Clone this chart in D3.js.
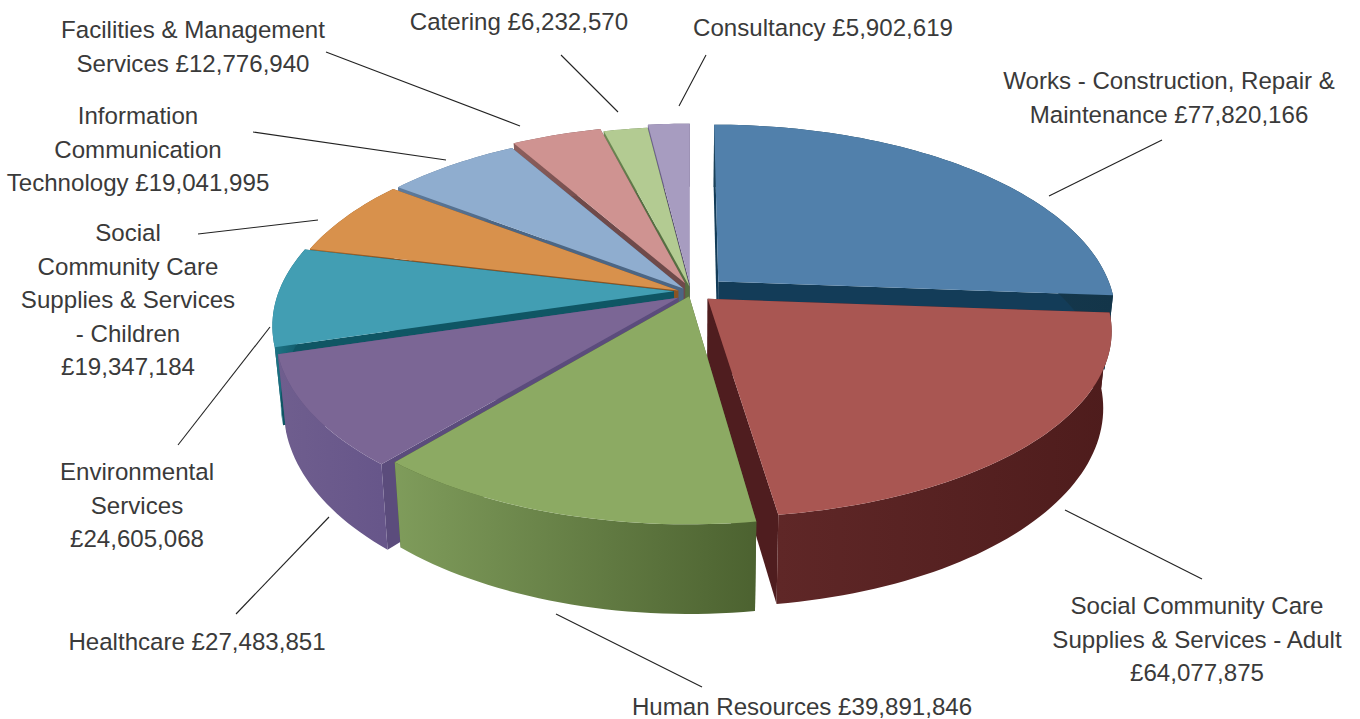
<!DOCTYPE html>
<html>
<head>
<meta charset="utf-8">
<script src="https://cdn.jsdelivr.net/npm/d3@7/dist/d3.min.js"></script>
<style>
html,body{margin:0;padding:0;background:#fff;overflow:hidden}
svg{display:block}
text{font-family:"Liberation Sans",Arial,sans-serif;font-size:24.1px;fill:#3a3a3a}
</style>
</head>
<body>
<svg id="chart" width="1360" height="719"></svg>
<script>
// Spend by category, clockwise from twelve o'clock
const categories = ["Works","Adult care","Human Resources","Healthcare","Environmental","Children care","ICT","Facilities","Catering","Consultancy"];
const values = [77820166,64077875,39891846,27483851,24605068,19347184,19041995,12776940,6232570,5902619];
// "$" marks where the formatted amount goes
const labelLines = [
  ["Works - Construction, Repair &","Maintenance $"],
  ["Social Community Care","Supplies & Services - Adult","$"],
  ["Human Resources $"],
  ["Healthcare $"],
  ["Environmental","Services","$"],
  ["Social","Community Care","Supplies & Services","- Children","$"],
  ["Information","Communication","Technology $"],
  ["Facilities & Management","Services $"],
  ["Catering $"],
  ["Consultancy $"]
];
// Label anchor: centre x, first baseline
const labelX = [1169,1197,802,197,137,128,138,193,519,823];
const labelY = [89,614,715,650,480,241,124,38,30,36];
// Leader lines: x1,y1,x2,y2
const leaders = [
  [1162,140,1049,196],[1202,579,1065,510],[702,687,556,614],[236,614,329,517],[178,445,270,327],
  [198,234,318,220],[253,132,446,160],[326,52,520,126],[561,55,618,112],[706,55,679,106]
];
// How far each wedge is pulled from the centre, an extra vertical nudge, and its depth flattening
const explode = [39,24,3,14,16,13,10,13,3,3];
const lift = [0,-3,1,0,-3,-1,-2,-5,-6,-9];
const flatten = [1,0.955,1,1,1,1,1,1,1,1];
const topColors  = ["#5180ab","#a95652","#8caa63","#7b6695","#429eb3","#d8914c","#8fadcf","#cf9391","#b3cb92","#a79cc0"];
const wallLight  = ["#1a4058","#5f2727","#7f9c5b","#6f5e8e","#1f7688","#a96a2c","#5e7b9c","#8d5f5d","#6f8a55","#6f6390"];
const wallDark   = ["#133549","#4e1c1c","#4c6230","#67568a","#0f5664","#8a5424","#4c6684","#6f4a4a","#566f42","#574c70"];
const cutColors  = ["#133c58","#4f1d1f","#4c6230","#5b4c7c","#0f5664","#8a5424","#4c6684","#6f4a4a","#566f42","#574c70"];
const lineHeight = 33.6;

const svg = d3.select("#chart");
const defs = svg.append("defs");

const cx = 690, cy = 294, rx = 395, ry = 188, depth = 74, persp = 0.173, taper = 0.02;
const toX = d3.scaleLinear().domain([-1,1]).range([-rx,rx]);
const toY = d3.scaleLinear().domain([-1,1]).range([-ry,ry]);

// Map a point on the pie plane to the screen, with foreshortening toward the back;
// the underside narrows slightly toward the centre
function project(angle, radius, wedge, z) {
  const mid = (wedge.startAngle + wedge.endAngle) / 2;
  const e = explode[wedge.index] / rx;
  const u = radius * Math.sin(angle) + e * Math.sin(mid);
  const v = -radius * Math.cos(angle) * flatten[wedge.index] - e * Math.cos(mid);
  const p = 1 / (1 - persp * v);
  const narrow = z > 0 ? 1 - taper : 1;
  return [cx + toX(u) * p * narrow, cy + lift[wedge.index] + (toY(v) + z) * p];
}

const pie = d3.pie().sort(null).value(d => d);
const wedges = pie(values);
const line = d3.line();

function rim(w, z) {
  const n = Math.max(8, Math.ceil((w.endAngle - w.startAngle) * 40));
  const a = d3.scaleLinear().domain([0,n]).range([w.startAngle,w.endAngle]);
  return d3.range(n + 1).map(i => project(a(i), 1, w, z));
}

// Back slices first, so nearer ones sit on top of their walls
const drawOrder = [9,8,7,6,5,4,0,3,1,2];
const layer = svg.append("g");

drawOrder.forEach(i => {
  const w = wedges[i];
  const g = layer.append("g").attr("class","slice slice-" + i);
  const topRim = rim(w, 0), lowRim = rim(w, depth);
  const apexT = project(0, 0, w, 0), apexB = project(0, 0, w, depth);

  const xs = topRim.map(d => d[0]);
  const grad = defs.append("linearGradient").attr("id","wall" + i)
    .attr("gradientUnits","userSpaceOnUse")
    .attr("x1",d3.min(xs)).attr("x2",d3.max(xs)).attr("y1",0).attr("y2",0);
  grad.append("stop").attr("offset",0).attr("stop-color",wallLight[i]);
  grad.append("stop").attr("offset",1).attr("stop-color",wallDark[i]);

  // radial cut faces
  [[apexT,topRim[0],lowRim[0],apexB],[apexT,topRim[topRim.length-1],lowRim[lowRim.length-1],apexB]]
    .forEach(q => g.append("path").attr("d",line(q) + "Z").attr("fill",cutColors[i]));
  // outer curved face
  g.append("path").attr("d",line(topRim.concat(lowRim.slice().reverse())) + "Z").attr("fill","url(#wall" + i + ")");
  // top face
  g.append("path").attr("d",line([apexT].concat(topRim)) + "Z").attr("fill",topColors[i]);
});

// Leader lines
svg.append("g").selectAll("line").data(leaders).join("line")
  .attr("x1",d=>d[0]).attr("y1",d=>d[1]).attr("x2",d=>d[2]).attr("y2",d=>d[3])
  .attr("stroke","#222").attr("stroke-width",1.1);

// Labels
const amount = d3.format(",");
const labels = svg.append("g").selectAll("text").data(labelLines).join("text")
  .attr("text-anchor","middle")
  .attr("x",(d,i)=>labelX[i]).attr("y",(d,i)=>labelY[i]);
labels.each(function(lines,i){
  d3.select(this).selectAll("tspan").data(lines).join("tspan")
    .attr("x",labelX[i]).attr("y",(l,j)=>labelY[i]+j*lineHeight)
    .text(l=>l.replace("$","£"+amount(values[i])));
});
</script>
</body>
</html>
